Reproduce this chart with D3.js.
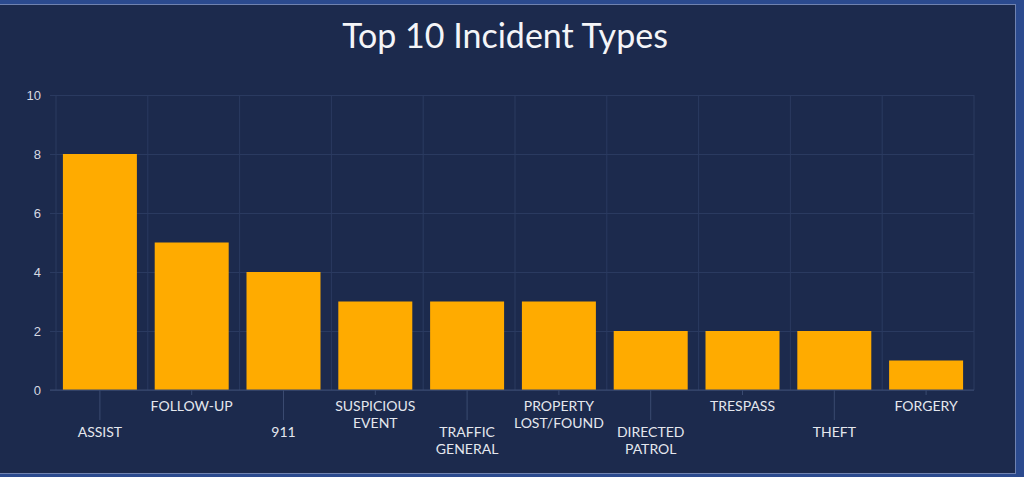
<!DOCTYPE html>
<html>
<head>
<meta charset="utf-8">
<script src="https://cdn.jsdelivr.net/npm/d3@7"></script>
<style>
	html, body { margin: 0; padding: 0; background: #2b4a8e; }
	#container {
		position: absolute; left: -1px; top: 4px;
		width: 1017px; height: 470px;
		background: #1c2a4d;
		border: 1px solid #6f82b0;
		box-sizing: border-box;
	}
	svg { display: block; font-family: Lato, "Open Sans", sans-serif; }
</style>
</head>
<body>
<div id="container"></div>
<script>
const width = 1017;
const height = 470;

// Chart data
const categories = ["ASSIST", "FOLLOW-UP", "911", "SUSPICIOUS EVENT", "TRAFFIC GENERAL",
	"PROPERTY LOST/FOUND", "DIRECTED PATROL", "TRESPASS", "THEFT", "FORGERY"];
const counts = [8, 5, 4, 3, 3, 3, 2, 2, 2, 1];
const yTicks = [0, 2, 4, 6, 8, 10];
// Wrapped label lines
const labelLines = [["ASSIST"], ["FOLLOW-UP"], ["911"], ["SUSPICIOUS", "EVENT"], ["TRAFFIC", "GENERAL"],
	["PROPERTY", "LOST/FOUND"], ["DIRECTED", "PATROL"], ["TRESPASS"], ["THEFT"], ["FORGERY"]];

const margin = { left: 56, right: 43, top: 90, bottom: 85 };

let svg = d3.select("#container")
	.append("svg")
	.attr("width", width)
	.attr("height", height);

// Title
svg.append("text")
	.attr("x", 505)
	.attr("y", 43)
	.attr("text-anchor", "middle")
	.attr("fill", "#f4f5f8")
	.attr("font-size", 34)
	.text("Top 10 Incident Types");

let x = d3.scaleBand()
	.domain(categories)
	.range([margin.left - 2, width - margin.right - 2])
	.paddingInner(0.194)
	.paddingOuter(0.097);

let y = d3.scaleLinear()
	.domain([0, 10])
	.range([height - margin.bottom, margin.top]);

// Vertical grid lines at category boundaries
let bounds = d3.range(categories.length + 1).map(i => margin.left + i * (width - margin.left - margin.right) / categories.length);
svg.append("g")
	.selectAll("line")
	.data(bounds)
	.enter()
	.append("line")
	.attr("x1", d => d).attr("x2", d => d)
	.attr("y1", y(10)).attr("y2", y(0))
	.attr("stroke", "#2a3a60")
	.attr("stroke-width", 1);

// Horizontal grid lines + y axis
let yAxis = svg.append("g")
	.attr("transform", "translate(" + margin.left + ",0)")
	.call(d3.axisLeft(y).tickValues(yTicks).tickSize(6).tickPadding(9))
	.call(g => g.select(".domain").remove());
yAxis.selectAll("line")
	.attr("stroke", "#2a3a60")
	.attr("x2", width - margin.right - margin.left)
	.attr("x1", -6);
yAxis.selectAll("text")
	.attr("fill", "#d6d9e2")
	.attr("font-size", 13);

// Bars
svg.append("g")
	.selectAll("rect")
	.data(counts)
	.enter()
	.append("rect")
	.attr("x", (d, i) => x(categories[i]))
	.attr("y", d => y(d))
	.attr("width", x.bandwidth())
	.attr("height", d => y(0) - y(d))
	.attr("fill", "#ffab00");

// Baseline
svg.append("line")
	.attr("x1", margin.left - 6).attr("x2", width - margin.right)
	.attr("y1", y(0)).attr("y2", y(0))
	.attr("stroke", "#3a4a70");

// X labels, staggered
let xl = svg.append("g");
categories.forEach((c, i) => {
	let cx = x(c) + x.bandwidth() / 2;
	let low = i % 2 === 0;
	xl.append("line")
		.attr("x1", cx).attr("x2", cx)
		.attr("y1", y(0)).attr("y2", low ? y(0) + 30 : y(0) + 5)
		.attr("stroke", "#3a4a70");
	let t = xl.append("text")
		.attr("text-anchor", "middle")
		.attr("fill", "#e4e7ee")
		.attr("font-size", 14)
		.attr("y", low ? y(0) + 47 : y(0) + 21);
	labelLines[i].forEach((ln, k) => {
		t.append("tspan").attr("x", cx).attr("dy", k === 0 ? 0 : 16.5).text(ln);
	});
});
</script>
</body>
</html>
